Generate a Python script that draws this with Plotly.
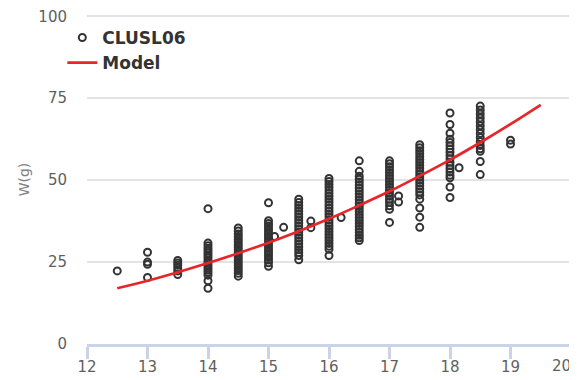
import plotly.graph_objects as go

# Fish length (cm) columns and observed weights (g)
lengths = [12.5, 13, 13.5, 14, 14.5, 15, 15.1, 15.25, 15.5, 15.7, 16, 16.2,
           16.5, 17, 17.15, 17.5, 18, 18.15, 18.5, 19]
weights = [
    [22.3],
    [28.0, 25.0, 24.3, 20.3],
    [25.5, 24.7, 24.0, 23.2, 22.3, 21.2],
    [41.3, 30.8, 30.0, 29.2, 28.5, 27.8, 27.0, 26.3, 25.5, 24.8, 24.0, 23.3, 22.5, 21.8, 21.0, 19.3, 17.0],
    [35.4, 34.5, 33.6, 32.8, 32.0, 31.2, 30.4, 29.6, 28.8, 28.0, 27.2, 26.4, 25.6, 24.8, 24.0, 23.2, 22.4, 21.6, 20.7],
    [43.1, 37.6, 36.8, 36.0, 35.2, 34.4, 33.6, 32.8, 32.0, 31.2, 30.4, 29.6, 28.8, 28.0, 27.2, 26.4, 25.6, 24.8, 23.7],
    [32.8],
    [35.6],
    [44.2, 43.2, 42.3, 41.4, 40.5, 39.6, 38.7, 37.8, 36.9, 36.0, 35.1, 34.2, 33.3, 32.4, 31.5, 30.6, 29.7, 28.8, 27.9, 27.0, 25.7],
    [37.5, 35.5],
    [50.5, 49.6, 48.7, 47.8, 46.9, 46.0, 45.1, 44.2, 43.3, 42.4, 41.5, 40.6, 39.7, 38.8, 37.9, 37.0, 36.1, 35.2, 34.3, 33.4, 32.5, 31.6, 30.7, 29.8, 28.9, 27.0],
    [38.6],
    [55.9, 52.7, 51.2, 50.3, 49.4, 48.5, 47.6, 46.7, 45.8, 44.9, 44.0, 43.1, 42.2, 41.3, 40.4, 39.5, 38.6, 37.7, 36.8, 35.9, 35.0, 34.1, 33.2, 32.4, 31.6],
    [55.9, 55.0, 54.1, 53.2, 52.3, 51.4, 50.5, 49.6, 48.7, 47.8, 46.9, 46.0, 45.1, 44.2, 43.3, 42.2, 41.1, 37.1],
    [45.2, 43.3],
    [60.8, 59.9, 59.0, 58.1, 57.2, 56.3, 55.4, 54.5, 53.6, 52.7, 51.8, 50.9, 50.0, 49.1, 48.2, 47.3, 46.4, 45.5, 44.2, 41.5, 38.7, 35.6],
    [70.5, 67.0, 64.3, 62.5, 61.5, 60.5, 59.5, 58.5, 57.5, 56.5, 55.5, 54.5, 53.5, 52.5, 51.5, 50.7, 47.9, 44.7],
    [53.8],
    [72.6, 71.4, 70.2, 69.0, 67.8, 66.6, 65.4, 64.2, 63.0, 61.8, 60.6, 59.6, 58.8, 55.7, 51.7],
    [62.2, 61.0],
]

model_x = [12.5, 13, 13.5, 14, 14.5, 15, 15.5, 16, 16.5, 17, 17.5, 18, 18.5, 19, 19.5]
model_w = [17.0, 19.3, 21.9, 24.7, 27.7, 30.9, 34.4, 38.2, 42.3, 46.6, 51.3, 56.2, 61.5, 67.1, 73.0]

x_ticks = [12, 13, 14, 15, 16, 17, 18, 19, 20]
x_labels = ["12", "13", "14", "15", "16", "17", "18", "19", "20"]
y_ticks = [0, 25, 50, 75, 100]

pts_x, pts_y = [], []
for L, ws in zip(lengths, weights):
    for w in ws:
        pts_x.append(L)
        pts_y.append(w)

fig = go.Figure()
fig.add_trace(go.Scatter(
    x=pts_x, y=pts_y, mode="markers", name="CLUSL06",
    marker=dict(symbol="circle-open", size=7, color="#333333", line=dict(width=2)),
))
fig.add_trace(go.Scatter(
    x=model_x, y=model_w, mode="lines", name="Model",
    line=dict(color="#e8262a", width=2.7, shape="spline"),
))

tick_font = dict(family="DejaVu Sans", size=15, color="#5f5f5f")
# last x label is drawn right-aligned at its tick so it stays inside the window
shown_x_labels = x_labels[:-1] + [""]
fig.add_annotation(
    x=x_ticks[-1], xref="x", y=0, yref="paper", text=x_labels[-1],
    showarrow=False, xanchor="right", yanchor="middle", xshift=2, yshift=-22,
    font=tick_font,
)

# page body adds an 8px offset, so margins are shifted by 8px
fig.update_layout(
    width=577, height=380,
    margin=dict(l=79, r=14, t=7, b=44, autoexpand=False),
    paper_bgcolor="white", plot_bgcolor="white",
    showlegend=True,
    legend=dict(
        xref="paper", yref="paper", x=-0.051, y=0.985,
        xanchor="left", yanchor="top",
        font=dict(family="DejaVu Sans", size=17, color="#333333", weight="bold"),
        bgcolor="rgba(0,0,0,0)", borderwidth=0,
    ),
    xaxis=dict(
        range=[12, 20], tickvals=x_ticks, ticktext=shown_x_labels,
        showgrid=False, zeroline=False,
        showline=True, linecolor="#c9d4e8", linewidth=3,
        ticks="outside", ticklen=12, tickwidth=3, tickcolor="#c9d4e8",
        tickfont=tick_font, ticklabeloverflow="allow", ticklabelstandoff=-5,
    ),
    yaxis=dict(
        range=[0, 100.4], tickvals=y_ticks, ticktext=[str(v) for v in y_ticks],
        showgrid=True, gridcolor="#e3e3e3", gridwidth=2,
        zeroline=False, showline=False,
        ticks="", ticklabelstandoff=19, ticklabeloverflow="allow",
        tickfont=tick_font,
        title=dict(text="W(g)", font=dict(family="DejaVu Sans", size=14, color="#808080"), standoff=5),
    ),
)

fig.write_html("out.html")
